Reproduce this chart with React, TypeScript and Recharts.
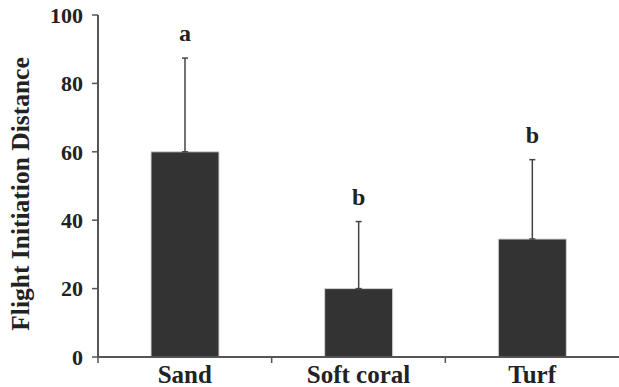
import { Bar, BarChart, ErrorBar, LabelList, XAxis, YAxis } from "recharts";

const categories = ["Sand", "Soft coral", "Turf"];
const means = [60, 20, 34.5];
const sds = [27.4, 19.6, 23.2];
const letters = ["a", "b", "b"];
const yTicks = [0, 20, 40, 60, 80, 100];

const W = 619;
const H = 387;
const X_AXIS_H = 30;
const MARGIN = { top: 15, right: 0, bottom: 0, left: 0 };
const Y_AXIS_W = 98;
const PLOT_W = W - MARGIN.left - MARGIN.right - Y_AXIS_W;

const FONT = "'Liberation Serif', 'Times New Roman', Times, serif";
const AXIS = "#555555";
const INK = "#222222";

const data = categories.map((name, i) => ({
  name,
  mean: means[i],
  err: [0, sds[i]],
  letter: letters[i],
}));

function XTick(props: any) {
  const { x, y, payload } = props;
  const band = PLOT_W / categories.length;
  const axisY = H - MARGIN.bottom - X_AXIS_H;
  return (
    <g>
      <line x1={x - band / 2} x2={x - band / 2} y1={axisY} y2={axisY + 6} stroke={AXIS} strokeWidth={1.5} />
      <text x={x} y={y} dy="0.71em" textAnchor="middle" style={{ fontFamily: FONT }} fontWeight="bold" fontSize={25} fill={INK}>
        {payload.value}
      </text>
    </g>
  );
}

function LetterLabel(props: any) {
  const { x, y, width, height, index, value } = props;
  const perUnit = height / means[index];
  const errTop = y - sds[index] * perUnit;
  return (
    <text x={x + width / 2} y={errTop - 17} textAnchor="middle" style={{ fontFamily: FONT }} fontWeight="bold" fontSize={24} fill={INK}>
      {value}
    </text>
  );
}

export default function App() {
  return (
    <div style={{ position: "absolute", left: 0, top: 0, background: "#fff" }}>
      <BarChart width={W} height={H} data={data} margin={MARGIN}>
        <XAxis
          dataKey="name"
          height={X_AXIS_H}
          axisLine={{ stroke: AXIS, strokeWidth: 2 }}
          tickLine={false}
          tickSize={6}
          tickMargin={2}
          tick={<XTick />}
          interval={0}
        />
        <YAxis
          width={Y_AXIS_W}
          domain={[0, 100]}
          ticks={yTicks}
          axisLine={{ stroke: AXIS, strokeWidth: 2 }}
          tickLine={{ stroke: AXIS, strokeWidth: 1.5 }}
          tickSize={6}
          tickMargin={9}
          tick={{ style: { fontFamily: FONT }, fontWeight: "bold", fontSize: 22, fill: INK }}
          label={{
            content: (p: any) => {
              const vb = p.viewBox;
              const cx = 20;
              const cy = vb.y + vb.height / 2 + 8;
              return (
                <text
                  x={cx}
                  y={cy}
                  transform={`rotate(-90 ${cx} ${cy})`}
                  textAnchor="middle"
                  dominantBaseline="central"
                  style={{ fontFamily: FONT }}
                  fontWeight="bold"
                  fontSize={25.5}
                  fill={INK}
                >
                  Flight Initiation Distance
                </text>
              );
            },
          }}
        />
        <Bar dataKey="mean" fill="#333333" stroke="#d4d4d4" strokeWidth={1} barSize={68} isAnimationActive={false}>
          <ErrorBar dataKey="err" direction="y" width={3} stroke="#444444" strokeWidth={1.5} />
          <LabelList dataKey="letter" content={<LetterLabel />} />
        </Bar>
      </BarChart>
    </div>
  );
}
